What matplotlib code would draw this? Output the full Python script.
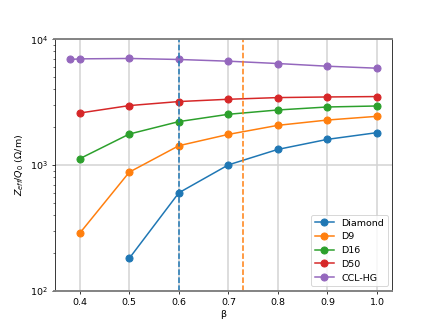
import matplotlib
matplotlib.use("Agg")
import matplotlib.pyplot as plt

beta = [0.4, 0.5, 0.6, 0.7, 0.8, 0.9, 1.0]
beta_ccl = [0.38, 0.4, 0.5, 0.6, 0.7, 0.8, 0.9, 1.0]

diamond = [182, 603, 1005, 1334, 1603, 1812]
d9 = [288, 880, 1427, 1755, 2071, 2282, 2442]
d16 = [1125, 1766, 2217, 2535, 2743, 2897, 2950]
d50 = [2594, 2972, 3199, 3336, 3440, 3479, 3505]
ccl_hg = [6907, 6985, 7035, 6907, 6694, 6412, 6105, 5888]

fig, ax = plt.subplots(figsize=(6.4, 4.8), dpi=68.125)

style = dict(marker='o', linewidth=1.6, markersize=7.5)
ax.plot(beta[1:], diamond, label='Diamond', **style)
ax.plot(beta, d9, label='D9', **style)
ax.plot(beta, d16, label='D16', **style)
ax.plot(beta, d50, label='D50', **style)
ax.plot(beta_ccl, ccl_hg, label='CCL-HG', **style)

ax.axvline(0.6, color='C0', linestyle='--', linewidth=1.6)
ax.axvline(0.73, color='C1', linestyle='--', linewidth=1.6)

ax.set_yscale('log')
ax.set_ylim(100, 10000)
ax.grid(color='lightgray', linewidth=1.6)
ax.spines['top'].set_color('gray')
ax.spines['bottom'].set_color('gray')
ax.spines['top'].set_linewidth(2)
ax.spines['bottom'].set_linewidth(2)
ax.set_xlabel('β')
ax.set_ylabel('$Z_{eff}/Q_0$ (Ω/m)')
ax.legend(loc='lower right')

fig.savefig('out.png')
